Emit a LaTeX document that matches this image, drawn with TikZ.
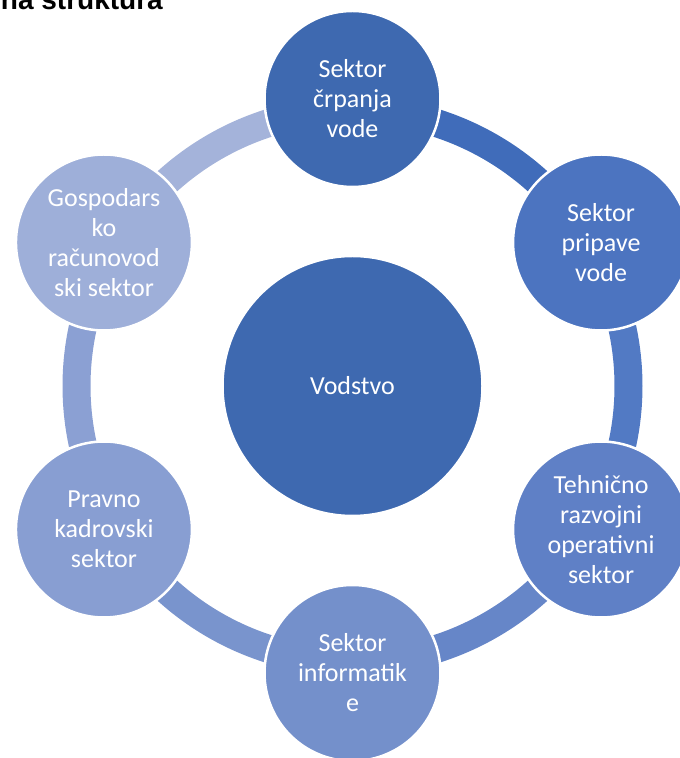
\documentclass[tikz,border=0pt]{standalone}
\usepackage{fontspec}
\setmainfont{Carlito}
\newfontfamily\titlefont{Liberation Sans}
\definecolor{cA}{RGB}{62,105,176}
\definecolor{cB}{RGB}{76,116,192}
\definecolor{cC}{RGB}{95,128,198}
\definecolor{cD}{RGB}{116,144,203}
\definecolor{cE}{RGB}{136,158,210}
\definecolor{cF}{RGB}{158,175,217}
\definecolor{aA}{RGB}{64,108,186}
\definecolor{aB}{RGB}{82,122,196}
\definecolor{aC}{RGB}{102,134,200}
\definecolor{aD}{RGB}{121,148,205}
\definecolor{aE}{RGB}{139,160,211}
\definecolor{aF}{RGB}{164,179,218}
\begin{document}
\begin{tikzpicture}[x=1pt,y=1pt,
  sat/.style={circle, minimum size=176pt, inner sep=0pt, draw=white, line width=2.5pt,
    text=white, align=center, font=\fontsize{26}{30}\selectfont},
  hub/.style={circle, minimum size=260pt, inner sep=0pt, draw=white, line width=2.5pt,
    fill=cA, text=white, font=\fontsize{26}{30}\selectfont},
  band/.style={line width=28pt}]
\useasboundingbox (0,0) rectangle (680,758);
\clip (0,0) rectangle (680,758);
\coordinate (C) at (352.5,372);
% ring segments
\draw[band, draw=aA] ([shift={(90:276)}]C) arc[start angle=90, end angle=30, radius=276];
\draw[band, draw=aB] ([shift={(30:276)}]C) arc[start angle=30, end angle=-30, radius=276];
\draw[band, draw=aC] ([shift={(-30:276)}]C) arc[start angle=-30, end angle=-90, radius=276];
\draw[band, draw=aD] ([shift={(-90:276)}]C) arc[start angle=-90, end angle=-150, radius=276];
\draw[band, draw=aE] ([shift={(210:276)}]C) arc[start angle=210, end angle=150, radius=276];
\draw[band, draw=aF] ([shift={(150:276)}]C) arc[start angle=150, end angle=90, radius=276];
% satellites
\node[sat, fill=cA] (s1) at ([shift={(90:287)}]C) {Sektor\\črpanja\\vode};
\node[sat, fill=cB] (s2) at ([shift={(30:287)}]C) {Sektor\\pripave\\vode};
\node[sat, fill=cC] (s3) at ([shift={(-30:287)}]C) {Tehnično\\razvojni\\operativni\\sektor};
\node[sat, fill=cD] (s4) at ([shift={(-90:287)}]C) {Sektor\\informatik\\e};
\node[sat, fill=cE] (s5) at ([shift={(210:287)}]C) {Pravno\\kadrovski\\sektor};
\node[sat, fill=cF] (s6) at ([shift={(150:287)}]C) {Gospodars\\ko\\računovod\\ski sektor};
% hub
\node[hub] (hub) at (C) {Vodstvo};
% cut-off title
\node[anchor=base east, inner sep=0pt, font=\titlefont\bfseries\fontsize{28}{30}\selectfont] (title) at (163,748) {na struktura};
\end{tikzpicture}
\end{document}
